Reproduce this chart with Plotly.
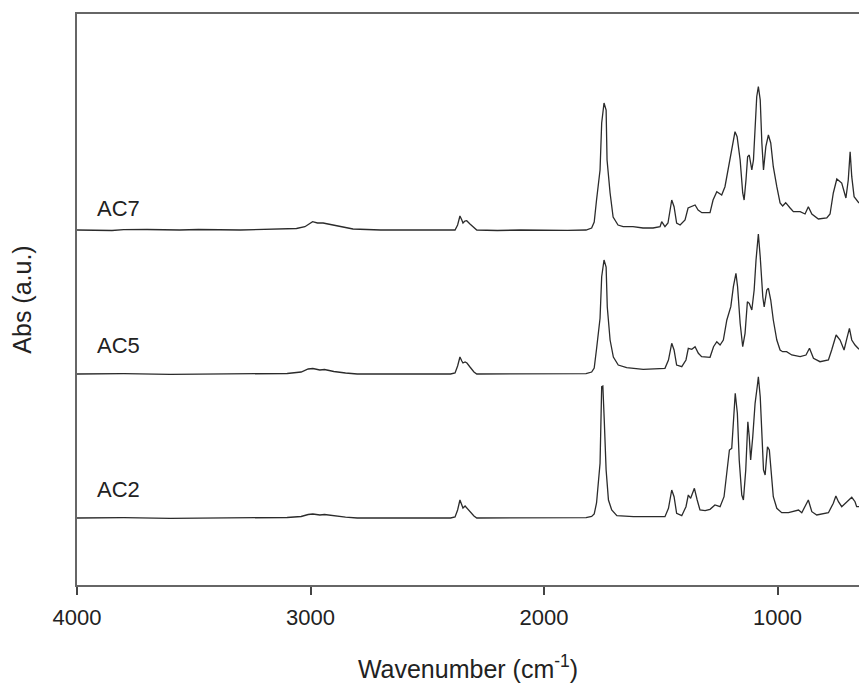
import plotly.graph_objects as go

# FTIR absorbance spectra (wavenumber in cm-1, absorbance in a.u. above each baseline)
ac7_wn = [4000, 3850, 3800, 3700, 3560, 3480, 3300, 3131, 3060, 3024, 2991, 2970, 2946, 2925,
          2904, 2880, 2865, 2818, 2700, 2420, 2381, 2370, 2360, 2352, 2347, 2339, 2331, 2317,
          2300, 2288, 2200, 2100, 1900, 1820, 1796, 1785, 1775, 1760, 1753, 1743, 1734, 1730,
          1717, 1704, 1683, 1661, 1619, 1576, 1533, 1503, 1496, 1482, 1469, 1453, 1443, 1432,
          1417, 1396, 1383, 1367, 1353, 1340, 1324, 1289, 1276, 1260, 1239, 1225, 1212, 1196,
          1182, 1173, 1160, 1149, 1143, 1135, 1128, 1121, 1110, 1103, 1096, 1089, 1082, 1074,
          1067, 1060, 1050, 1039, 1029, 1018, 1003, 989, 978, 965, 946, 932, 903, 882, 868,
          853, 825, 789, 775, 761, 746, 725, 707, 697, 689, 682, 672, 651]
ac7_abs = [0.0, -0.005, 0.003, 0.005, 0.0, 0.005, 0.0, 0.007, 0.015, 0.033, 0.083, 0.07, 0.07, 0.06,
           0.05, 0.04, 0.03, 0.01, 0.0, -0.003, 0.0, 0.05, 0.14, 0.10, 0.07, 0.09, 0.093, 0.06,
           0.02, 0.0, -0.005, 0.0, -0.003, 0.0, 0.02, 0.08, 0.30, 0.60, 1.07, 1.27, 1.20, 0.70,
           0.37, 0.13, 0.05, 0.033, 0.033, 0.02, 0.02, 0.033, 0.083, 0.033, 0.07, 0.30, 0.233, 0.07,
           0.05, 0.10, 0.22, 0.233, 0.25, 0.20, 0.173, 0.173, 0.30, 0.383, 0.35, 0.433, 0.60, 0.80,
           0.983, 0.933, 0.70, 0.37, 0.30, 0.50, 0.733, 0.75, 0.60, 0.70, 1.033, 1.333, 1.433, 1.30,
           0.87, 0.60, 0.833, 0.95, 0.87, 0.633, 0.433, 0.27, 0.24, 0.273, 0.22, 0.183, 0.183, 0.16, 0.233,
           0.16, 0.11, 0.12, 0.16, 0.37, 0.51, 0.47, 0.32, 0.50, 0.783, 0.533, 0.333, 0.27]

ac5_wn = [4000, 3800, 3600, 3400, 3200, 3100, 3040, 3010, 2990, 2960, 2940, 2900, 2850, 2800,
          2400, 2381, 2370, 2360, 2352, 2347, 2338, 2330, 2317, 2300, 2288, 2100, 1900, 1820,
          1796, 1785, 1775, 1760, 1753, 1743, 1734, 1729, 1717, 1703, 1682, 1646, 1575, 1503,
          1482, 1467, 1453, 1443, 1432, 1410, 1392, 1382, 1367, 1353, 1339, 1325, 1289, 1274,
          1260, 1246, 1232, 1217, 1200, 1189, 1178, 1171, 1160, 1149, 1139, 1129, 1121, 1110,
          1100, 1092, 1082, 1074, 1063, 1057, 1046, 1039, 1029, 1018, 1003, 989, 978, 961, 939,
          903, 878, 863, 846, 818, 782, 768, 749, 732, 715, 701, 692, 682, 668, 651]
ac5_abs = [0.0, 0.003, -0.003, 0.0, 0.003, 0.005, 0.02, 0.05, 0.055, 0.04, 0.045, 0.025, 0.01, 0.0,
           0.0, 0.01, 0.08, 0.17, 0.13, 0.11, 0.12, 0.11, 0.07, 0.02, 0.0, 0.0, 0.0, 0.003,
           0.02, 0.06, 0.25, 0.557, 0.973, 1.14, 1.07, 0.67, 0.34, 0.17, 0.09, 0.063, 0.047, 0.057,
           0.057, 0.14, 0.307, 0.24, 0.09, 0.073, 0.14, 0.257, 0.247, 0.273, 0.207, 0.173, 0.167, 0.273,
           0.323, 0.29, 0.34, 0.54, 0.673, 0.873, 1.007, 0.873, 0.507, 0.273, 0.407, 0.723, 0.707, 0.64,
           0.84, 1.14, 1.40, 1.17, 0.77, 0.67, 0.84, 0.857, 0.74, 0.54, 0.34, 0.24, 0.223, 0.223, 0.19,
           0.173, 0.19, 0.257, 0.157, 0.123, 0.14, 0.24, 0.39, 0.34, 0.24, 0.373, 0.457, 0.34, 0.29, 0.247]

ac2_wn = [4000, 3800, 3600, 3400, 3200, 3100, 3040, 3010, 2990, 2960, 2940, 2900, 2850, 2800,
          2400, 2381, 2370, 2360, 2352, 2347, 2338, 2330, 2317, 2300, 2288, 2100, 1900, 1820,
          1796, 1785, 1775, 1760, 1753, 1748, 1742, 1734, 1724, 1710, 1688, 1617, 1482, 1467,
          1453, 1443, 1432, 1410, 1392, 1382, 1372, 1356, 1344, 1332, 1310, 1289, 1268, 1246,
          1229, 1215, 1206, 1196, 1189, 1181, 1172, 1164, 1153, 1146, 1136, 1127, 1121, 1115,
          1106, 1096, 1086, 1082, 1074, 1067, 1060, 1053, 1043, 1035, 1027, 1018, 1003, 982,
          953, 932, 910, 896, 868, 853, 832, 782, 761, 750, 739, 725, 711, 696, 682, 668, 661, 651]
ac2_abs = [0.0, 0.003, -0.003, 0.0, 0.003, 0.005, 0.015, 0.035, 0.04, 0.03, 0.035, 0.02, 0.008, 0.0,
           0.0, 0.01, 0.08, 0.18, 0.13, 0.10, 0.12, 0.10, 0.06, 0.02, 0.0, 0.0, 0.0, 0.003,
           0.015, 0.04, 0.15, 0.547, 1.313, 1.32, 0.98, 0.48, 0.18, 0.08, 0.023, 0.013, 0.013, 0.097,
           0.28, 0.213, 0.047, 0.023, 0.113, 0.23, 0.197, 0.297, 0.18, 0.08, 0.073, 0.087, 0.13, 0.113,
           0.213, 0.48, 0.68, 0.697, 0.98, 1.247, 1.047, 0.58, 0.23, 0.18, 0.48, 0.963, 0.813, 0.58,
           0.813, 1.147, 1.33, 1.413, 1.213, 0.88, 0.48, 0.43, 0.713, 0.68, 0.413, 0.213, 0.097, 0.053,
           0.053, 0.063, 0.08, 0.053, 0.18, 0.063, 0.03, 0.053, 0.147, 0.22, 0.163, 0.113, 0.147, 0.18,
           0.207, 0.163, 0.113, 0.113]

sample_names = ["AC7", "AC5", "AC2"]
baselines = [3.55, 2.11, 0.67]          # vertical stacking of the spectra
label_wn = 3824
label_heights = [3.77, 2.40, 0.96]

x_ticks = [4000, 3000, 2000, 1000]

spectra = [(ac7_wn, ac7_abs), (ac5_wn, ac5_abs), (ac2_wn, ac2_abs)]

FONT = "Arial, Liberation Sans, sans-serif"
INK = "#222222"

fig = go.Figure()
for name, (wn, ab), base in zip(sample_names, spectra, baselines):
    fig.add_trace(go.Scatter(
        x=wn, y=[v + base for v in ab], mode="lines", name=name,
        line=dict(color="#2b2b2b", width=1.3), showlegend=False,
    ))

for name, ly in zip(sample_names, label_heights):
    fig.add_annotation(x=label_wn, y=ly, text=name, showarrow=False,
                       xanchor="center", yanchor="middle",
                       font=dict(family=FONT, size=22, color=INK))

fig.update_layout(
    width=859, height=684,
    margin=dict(l=77, r=0, t=14, b=99),
    paper_bgcolor="white", plot_bgcolor="white",
    font=dict(family=FONT, size=22, color=INK),
)
fig.update_xaxes(
    range=[4000, 651], tickvals=x_ticks, ticktext=[str(t) for t in x_ticks],
    showgrid=False, zeroline=False,
    showline=True, linecolor="#666666", linewidth=2, mirror=True,
    ticks="outside", ticklen=8, tickwidth=1.5, tickcolor="#444444",
    ticklabelstandoff=4,
    tickfont=dict(family=FONT, size=22, color=INK),
    title=dict(text="Wavenumber (cm<sup>-1</sup>)", standoff=31,
               font=dict(family=FONT, size=25, color=INK)),
)
fig.update_yaxes(
    range=[0, 5.71], showticklabels=False, ticks="",
    showgrid=False, zeroline=False,
    showline=True, linecolor="#666666", linewidth=2, mirror=False,
    title=dict(text="Abs (a.u.)", standoff=36,
               font=dict(family=FONT, size=25, color=INK)),
)

fig.write_html("out.html")
